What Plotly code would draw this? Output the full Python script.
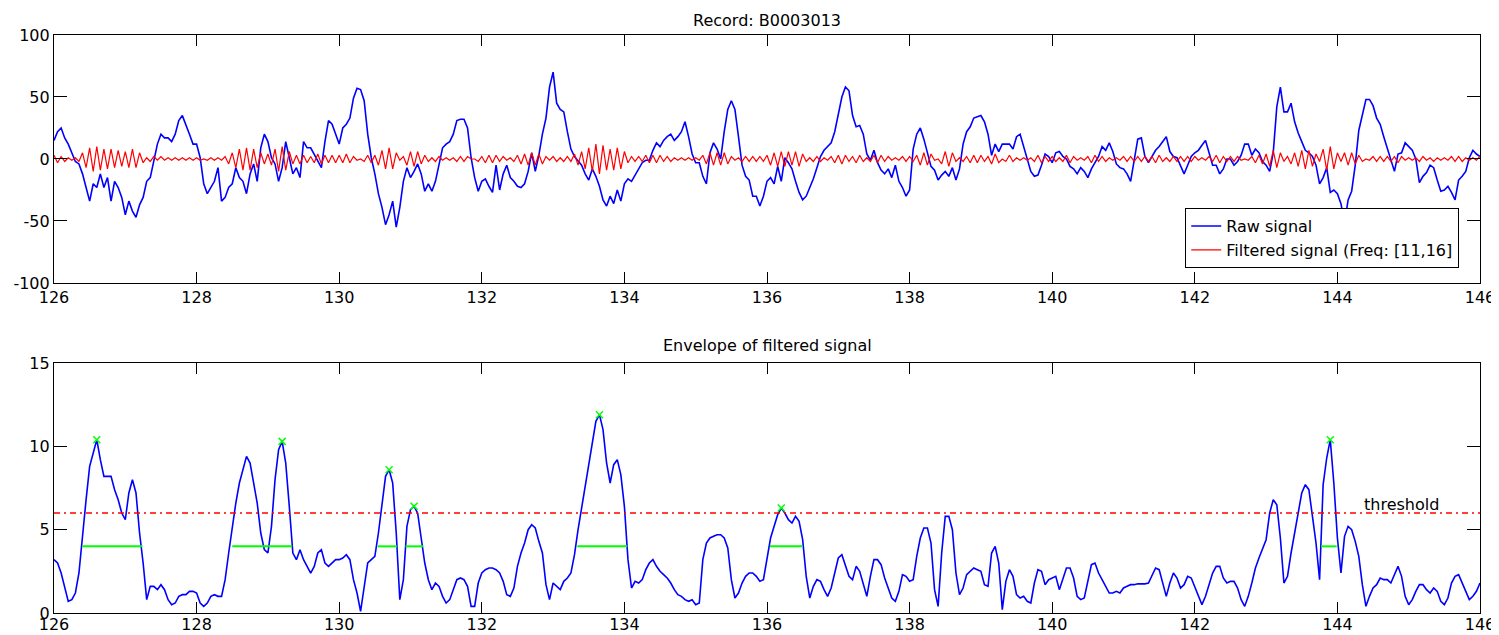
import numpy as np
import plotly.graph_objects as go

# ---------------- data ----------------
t_start = 126.0
t_step = 0.05

raw_signal = [
    15,22,25,17,12,5,-2,-4,-12,-23,-34,-20,-23,-12,-23,-15,-34,-18,-23,-31,
    -45,-34,-42,-47,-37,-31,-18,-15,-2,12,20,17,17,14,20,31,35,28,20,12,
    12,1,-20,-28,-23,-18,-7,-34,-31,-23,-20,-7,-15,-18,-28,-12,-4,-18,9,20,
    14,1,-4,-18,-7,14,1,-12,-7,-15,14,9,9,4,-2,-7,14,31,28,20,
    12,25,28,33,49,57,56,47,20,1,-12,-28,-39,-53,-45,-34,-55,-39,-18,-7,
    -15,-10,-4,-12,-26,-20,-26,-18,-4,9,12,14,20,31,32,32,25,1,-15,-26,
    -18,-16,-22,-27,-5,-25,-12,-5,-15,-18,-22,-23,-20,-10,5,-10,3,20,33,58,
    70,45,40,38,22,8,2,-2,-5,-12,-17,-8,-14,-22,-33,-38,-30,-36,-25,-34,
    -20,-16,-18,-13,-8,-3,-1,-1,7,13,10,15,18,20,15,18,22,30,18,4,
    -3,-3,-14,-20,5,13,8,0,22,40,47,40,18,-5,-14,-17,-30,-30,-38,-30,
    -18,-15,-20,-6,-18,1,-3,-8,-18,-27,-33,-30,-23,-16,-7,2,7,10,13,22,
    36,50,58,55,35,26,27,20,4,-1,7,-3,-9,-12,-8,-15,-5,-18,-23,-30,
    -25,8,20,25,16,5,-6,-9,-17,-13,-10,-14,-7,-17,-8,12,22,26,33,34,
    35,30,20,3,12,6,12,12,12,8,18,20,10,-2,-10,-14,-13,-5,4,2,
    -3,5,6,2,0,-6,-8,-12,-7,-10,-15,-8,-3,2,10,7,13,6,-4,-7,
    -8,-12,-18,0,16,17,2,-3,2,7,10,14,18,6,2,1,-6,-12,-5,2,
    5,7,11,15,5,-5,-5,-12,-8,0,0,-5,-2,3,12,12,3,8,5,-2,
    -5,-10,5,42,58,38,38,45,30,21,14,7,5,2,-5,-20,-15,-7,-27,-25,
    -28,-36,-52,-33,-26,-5,23,35,48,48,43,33,28,18,8,0,-10,4,5,13,
    10,7,0,-19,-14,-11,-5,-7,-17,-26,-25,-22,-27,-33,-17,-14,-10,1,7,4,
    2,
]

filtered_signal = [
    3,-3,2,-2,1,-1,1,-2,5,-7,9,-10,10,-9,8,-8,8,-7,7,-6,
    6,-7,8,-7,5,-3,1,-2,2,-1,2,-1,1,-1,1,-1,1,-1,1,-1,
    1,-1,0,-1,1,-1,1,-1,2,-4,5,-7,8,-9,9,-9,8,-7,5,-4,
    4,-5,8,-10,10,-9,6,-4,3,-4,3,-3,2,-3,4,-4,3,-3,3,-3,
    3,-3,4,-3,2,-1,0,-2,3,-3,3,-5,7,-8,9,-8,5,-1,2,-5,
    6,-6,6,-4,3,-2,1,-2,2,-1,1,-1,1,-2,2,-2,2,0,0,-2,
    2,-3,3,-3,3,-2,2,-1,1,-2,3,-4,4,-5,5,-5,4,-4,2,-1,
    2,-2,1,-2,2,-2,4,-5,6,-8,9,-10,12,-12,11,-9,8,-9,9,-8,
    6,-3,2,-2,2,-2,3,-3,3,-3,3,-2,2,-2,1,-1,1,-1,1,-1,
    1,-1,3,-4,5,-5,5,-5,5,-4,2,-1,1,-2,2,-2,2,-2,2,-2,
    3,-5,5,-6,6,-6,6,-5,6,-6,4,-2,1,-2,2,-2,1,-1,2,-3,
    3,-4,3,-2,2,-3,3,-2,1,-2,3,-3,3,-2,2,-1,1,-1,2,-2,
    2,-2,3,-5,5,-5,4,-1,0,-4,6,-6,5,-2,1,-2,2,-3,3,-3,
    3,-2,2,-4,4,-3,0,-2,3,-2,1,-1,1,-1,1,-2,3,-3,2,-2,
    2,-2,1,-2,3,-3,2,-1,1,-1,2,-3,3,-2,2,-2,1,-1,1,-1,
    2,-2,2,-2,2,-2,2,-2,2,-3,3,-2,1,-2,2,-2,2,-2,2,-2,
    2,-1,1,-1,2,-2,3,-3,2,-2,2,-2,2,-1,0,-1,2,-3,3,-4,
    4,-6,7,-7,5,-2,2,-4,5,-6,7,-8,7,-6,4,-2,8,-9,10,-8,
    5,-2,5,-5,5,-4,3,-2,0,-1,2,-2,2,-2,2,-2,2,-3,2,-1,
    1,-1,1,-2,2,-1,1,-2,1,-1,1,-1,2,-2,2,-2,1,-1,1,-1,
    2,
]

envelope = [
    3.2,3.0,2.4,1.6,0.7,0.8,1.2,2.4,4.8,6.8,8.8,9.6,10.4,9.2,8.2,8.2,8.2,7.4,6.8,6.0,
    5.6,7.2,8.0,7.2,4.8,3.0,0.8,1.6,1.6,1.4,1.7,1.4,0.8,0.5,0.6,1.0,1.1,1.1,1.3,1.3,
    1.2,0.6,0.4,0.6,1.0,1.1,1.0,1.0,2.0,3.6,5.2,6.6,7.8,8.6,9.4,9.0,7.8,6.6,4.8,3.8,
    3.6,5.2,8.0,9.8,10.3,9.0,6.4,3.6,3.2,3.8,3.2,2.8,2.4,2.8,3.6,3.8,3.0,2.8,3.0,3.2,
    3.2,3.3,3.5,3.2,2.0,1.2,0.1,1.6,3.0,3.2,3.4,4.8,6.6,8.2,8.6,7.8,4.8,0.8,2.0,5.2,
    6.2,6.4,6.0,4.4,3.0,2.0,1.4,1.8,1.6,1.0,0.6,0.8,1.4,2.0,2.1,2.0,1.6,0.4,0.4,1.8,
    2.4,2.6,2.7,2.7,2.6,2.4,1.9,1.1,1.0,1.5,2.8,3.6,4.2,5.0,5.3,5.1,4.3,3.6,1.7,0.8,
    1.8,1.6,1.4,1.9,2.1,2.4,3.5,5.0,6.3,7.7,9.1,10.4,11.5,11.9,11.0,9.0,7.8,8.9,9.2,8.3,
    6.4,3.2,1.5,1.9,1.8,2.0,2.6,3.0,3.2,2.8,2.5,2.3,2.1,1.8,1.4,1.1,1.0,0.8,0.7,0.8,
    0.5,0.6,3.2,4.2,4.5,4.6,4.7,4.7,4.5,3.9,2.0,0.9,1.2,1.8,2.2,2.4,2.4,2.2,1.9,2.0,
    3.2,4.5,5.2,5.9,6.3,6.0,5.6,5.4,5.8,5.5,4.4,2.2,0.9,1.6,2.0,1.9,1.4,1.0,1.5,2.5,
    3.3,3.5,2.8,2.2,2.0,2.8,2.5,1.8,1.0,2.2,3.2,3.2,2.9,2.1,1.5,0.9,0.7,1.3,2.3,2.2,
    1.9,2.0,3.4,4.5,5.1,5.1,4.2,1.4,0.4,3.6,5.8,5.8,5.0,2.4,1.1,1.5,2.3,2.5,2.7,2.6,
    2.5,1.7,1.6,3.6,4.0,3.0,0.2,1.9,2.6,2.2,1.1,0.9,1.0,0.7,0.6,1.8,2.6,2.5,1.7,2.0,
    2.1,2.2,1.4,2.1,2.7,2.7,2.1,1.0,0.8,0.9,2.0,2.9,3.0,2.4,2.0,1.6,1.2,1.2,1.3,1.2,
    1.5,1.6,1.7,1.7,1.75,1.75,1.75,1.8,2.3,2.7,2.6,1.8,1.0,1.8,2.4,2.1,1.5,1.7,2.2,2.1,
    1.6,1.1,0.5,1.0,1.7,2.4,2.8,2.8,2.1,1.8,1.9,1.9,1.5,0.8,0.4,1.0,1.8,2.7,3.3,3.8,
    4.4,6.0,6.8,6.5,4.5,1.8,2.2,3.6,4.8,5.9,7.2,7.7,7.4,5.8,4.2,2.0,7.7,9.3,10.4,7.8,
    4.5,2.4,4.6,5.2,5.0,4.3,3.4,1.7,0.4,1.0,1.5,1.7,2.1,2.0,2.0,1.8,2.3,2.8,2.2,1.0,
    0.5,0.8,1.3,1.7,1.7,1.4,1.2,1.5,1.3,0.7,0.5,0.9,1.8,2.2,2.3,1.8,1.4,0.8,1.0,1.3,
    1.8,
]

peak_times = [126.6, 129.2, 130.7, 131.05, 133.65, 136.2, 143.9]
peak_values = [10.4, 10.3, 8.6, 6.4, 11.9, 6.3, 10.4]

burst_starts = [126.40, 128.50, 130.54, 130.93, 133.34, 136.04, 143.77]
burst_ends = [127.24, 129.34, 130.81, 131.18, 134.04, 136.50, 143.99]
burst_level = 4

threshold = 6

x_ticks = [126, 128, 130, 132, 134, 136, 138, 140, 142, 144, 146]
top_y_ticks = [-100, -50, 0, 50, 100]
bottom_y_ticks = [0, 5, 10, 15]

title_top = "Record: B0003013"
title_bottom = "Envelope of filtered signal"
legend_raw = "Raw signal"
legend_filt = "Filtered signal (Freq: [11,16]"

# ---------------- figure ----------------
n = min(len(raw_signal), len(filtered_signal), len(envelope))
times = np.round(t_start + t_step * np.arange(n), 3)

FONT = "DejaVu Sans, Liberation Sans, Arial, sans-serif"
BLUE = "#0000ff"
RED = "#ff0000"
GREEN = "#00ff00"

fig = go.Figure()

fig.add_trace(go.Scatter(x=times, y=raw_signal[:n], mode="lines", name=legend_raw,
                         line=dict(color=BLUE, width=1.6),
                         xaxis="x", yaxis="y"))
fig.add_trace(go.Scatter(x=times, y=filtered_signal[:n], mode="lines", name=legend_filt,
                         line=dict(color=RED, width=1.2),
                         xaxis="x", yaxis="y"))

fig.add_trace(go.Scatter(x=times, y=envelope[:n], mode="lines", showlegend=False,
                         line=dict(color=BLUE, width=1.6),
                         xaxis="x2", yaxis="y2"))
fig.add_trace(go.Scatter(x=[x_ticks[0], x_ticks[-1]], y=[threshold, threshold], mode="lines",
                         showlegend=False,
                         line=dict(color=RED, width=1.5, dash="6px,4px,2px,4px"),
                         xaxis="x2", yaxis="y2"))
seg_x, seg_y = [], []
for s, e in zip(burst_starts, burst_ends):
    seg_x += [s, e, None]
    seg_y += [burst_level, burst_level, None]
fig.add_trace(go.Scatter(x=seg_x, y=seg_y, mode="lines", showlegend=False,
                         line=dict(color=GREEN, width=2),
                         xaxis="x2", yaxis="y2"))
fig.add_trace(go.Scatter(x=peak_times, y=peak_values, mode="markers", showlegend=False,
                         marker=dict(symbol="x-thin", size=7, color=GREEN,
                                     line=dict(color=GREEN, width=1.5)),
                         xaxis="x2", yaxis="y2"))

axis_common = dict(showline=True, linecolor="black", linewidth=1.2, mirror="ticks",
                   ticks="inside", tickcolor="black", tickwidth=1.2,
                   showgrid=False, zeroline=False, automargin=False,
                   tickfont=dict(family=FONT, size=16, color="black"))

def tick_text(vals):
    # plain hyphen-minus, as in the reference
    return [str(v) for v in vals]

# the page adds an 8px body margin, so the figure is sized/offset to compensate
fig.update_layout(
    template="none",
    width=1491, height=627,
    margin=dict(l=46, r=19, t=27, b=22, autoexpand=False),
    paper_bgcolor="white", plot_bgcolor="white",
    font=dict(family=FONT, size=16, color="black"),
    xaxis=dict(domain=[0, 1], anchor="y", range=[126, 146], tickvals=x_ticks,
               ticktext=tick_text(x_ticks), ticklen=11, **axis_common),
    yaxis=dict(domain=[0.571, 1.0], anchor="x", range=[-100, 100], tickvals=top_y_ticks,
               ticktext=tick_text(top_y_ticks), ticklen=13, **axis_common),
    xaxis2=dict(domain=[0, 1], anchor="y2", range=[126, 146], tickvals=x_ticks,
                ticktext=tick_text(x_ticks), ticklen=11, ticklabelstandoff=-3,
                **axis_common),
    yaxis2=dict(domain=[0, 0.4325], anchor="x2", range=[0, 15], tickvals=bottom_y_ticks,
                ticktext=tick_text(bottom_y_ticks), ticklen=13, **axis_common),
    legend=dict(x=0.9853, y=0.597, xanchor="right", yanchor="bottom",
                xref="paper", yref="paper",
                bgcolor="white", bordercolor="black", borderwidth=1.2,
                font=dict(family=FONT, size=16, color="black"),
                itemwidth=30, tracegroupgap=0),
    showlegend=True,
    annotations=[
        dict(text=title_top, x=0.5, y=1.044, xref="paper", yref="paper",
             showarrow=False, xanchor="center", yanchor="top", borderpad=0,
             font=dict(family=FONT, size=16, color="black")),
        dict(text=title_bottom, x=0.5, y=0.462, xref="paper", yref="paper",
             showarrow=False, xanchor="center", yanchor="middle",
             font=dict(family=FONT, size=16, color="black")),
        dict(text="threshold", x=144.9, y=6.5, xref="x2", yref="y2",
             showarrow=False, xanchor="center", yanchor="middle",
             font=dict(family=FONT, size=16, color="black")),
    ],
)

fig.write_html("out.html")
